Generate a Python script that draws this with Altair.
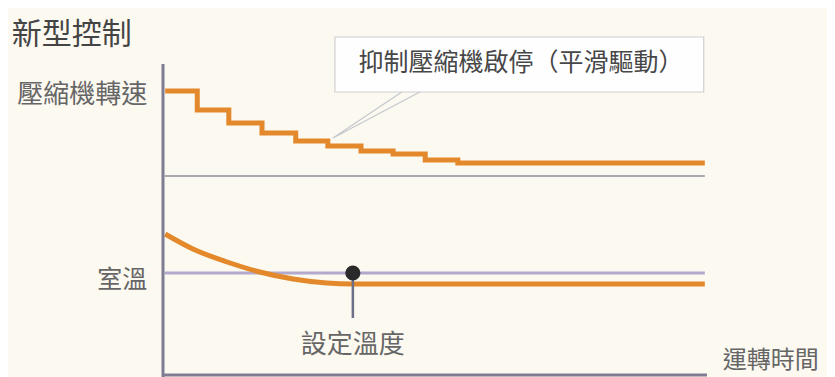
import altair as alt
import pandas as pd

# ---- data (time units 0..100, level units 0..315) ----
step_t = [0.4, 6.3, 12.1, 18.2, 24.4, 30.3, 36.4, 42.3, 48.2, 54.2, 99.6]
step_v = [284, 265, 252, 242, 234, 229, 224, 221, 215, 212, 212]

temp_t = [0.4, 5.5, 11.8, 17.8, 23.9, 30.1, 34.9, 99.6]
temp_v = [141, 126, 113, 103, 96, 92, 91, 91]

speed_base = 199
room_ref = 102
set_t = 34.9
set_stem_end = 57

callout_text = "抑制壓縮機啟停（平滑驅動）"
title_text = "新型控制"
speed_label = "壓縮機轉速"
room_label = "室溫"
set_label = "設定溫度"
time_label = "運轉時間"

FONT = "Noto Sans CJK TC"
ORANGE = "#e3892b"

xs = alt.Scale(domain=[0, 100], nice=False, zero=False)
ys = alt.Scale(domain=[0, 315], nice=False, zero=False)

def X(f="t"):
    return alt.X(f"{f}:Q", scale=xs, axis=None)

def Y(f="v"):
    return alt.Y(f"{f}:Q", scale=ys, axis=None)

steps = pd.DataFrame({"t": step_t, "v": step_v})
temps = pd.DataFrame({"t": temp_t, "v": temp_v})

# axes
vaxis = alt.Chart(pd.DataFrame({"t": [0], "v": [-2], "v2": [311]})).mark_rule(
    color="#7e7c92", strokeWidth=3).encode(x=X(), y=Y(), y2="v2:Q")
haxis = alt.Chart(pd.DataFrame({"t": [0], "t2": [100], "v": [0]})).mark_rule(
    color="#7e7c92", strokeWidth=3).encode(x=X(), x2="t2:Q", y=Y())

# reference lines
base_line = alt.Chart(pd.DataFrame({"t": [0.3], "t2": [99.6], "v": [speed_base]})).mark_rule(
    color="#a9a9b2", strokeWidth=2).encode(x=X(), x2="t2:Q", y=Y())
room_line = alt.Chart(pd.DataFrame({"t": [0.3], "t2": [99.6], "v": [room_ref]})).mark_rule(
    color="#b2a9cc", strokeWidth=3).encode(x=X(), x2="t2:Q", y=Y())

# series
step_line = alt.Chart(steps).mark_line(
    interpolate="step-after", color=ORANGE, strokeWidth=5, strokeCap="butt").encode(x=X(), y=Y())
temp_line = alt.Chart(temps).mark_line(
    interpolate="monotone", color=ORANGE, strokeWidth=5).encode(x=X(), y=Y())

# set temperature marker
stem = alt.Chart(pd.DataFrame({"t": [set_t], "v": [room_ref], "v2": [set_stem_end]})).mark_rule(
    color="#6c7088", strokeWidth=2.5).encode(x=X(), y=Y(), y2="v2:Q")
dot = alt.Chart(pd.DataFrame({"t": [set_t], "v": [room_ref]})).mark_circle(
    size=230, color="#2a2a2a", opacity=1).encode(x=X(), y=Y())

# callout box and pointer
box = alt.Chart(pd.DataFrame({"t": [31.6], "t2": [99.4], "v": [338], "v2": [283]})).mark_rect(
    fill="#fefefe", stroke="#cfcfcf", strokeWidth=1.2).encode(x=X(), x2="t2:Q", y=Y(), y2="v2:Q")
pointer = alt.Chart(pd.DataFrame({
    "t": [43.9, 31.25, 47.2], "v": [283, 237, 283], "o": [0, 1, 2]})).mark_line(
    color="#c4c8cc", strokeWidth=1.2).encode(x=X(), y=Y(), order="o:Q")
callout = alt.Chart(pd.DataFrame({"t": [65.8], "v": [312], "s": [callout_text]})).mark_text(
    font=FONT, fontSize=25, color="#474747", baseline="middle", align="center").encode(
    x=X(), y=Y(), text="s:N")

# labels
def label(t, v, s, size, align, color="#666666", weight="normal"):
    return alt.Chart(pd.DataFrame({"t": [t], "v": [v], "s": [s]})).mark_text(
        font=FONT, fontSize=size, color=color, baseline="middle", align=align,
        fontWeight=weight).encode(x=X(), y=Y(), text="s:N")

title = label(-27.8, 340, title_text, 30, "left", color="#444444")
speed_l = label(-2.9, 280, speed_label, 26, "right")
room_l = label(-2.9, 95, room_label, 25, "right")
set_l = label(set_t, 30, set_label, 26, "center")
time_l = label(102.9, 14, time_label, 24, "left")

chart = alt.layer(
    base_line, room_line, step_line, temp_line, stem, dot,
    box, pointer, callout, vaxis, haxis,
    title, speed_l, room_l, set_l, time_l,
).properties(
    width=544, height=315,
    autosize=alt.AutoSizeParams(type="none"),
    padding={"left": 155, "top": 52, "right": 120, "bottom": 2},
    background="#fcf9f1",
).configure_view(stroke=None)

chart.save("out.html", embed_options={"renderer": "svg", "actions": False})
